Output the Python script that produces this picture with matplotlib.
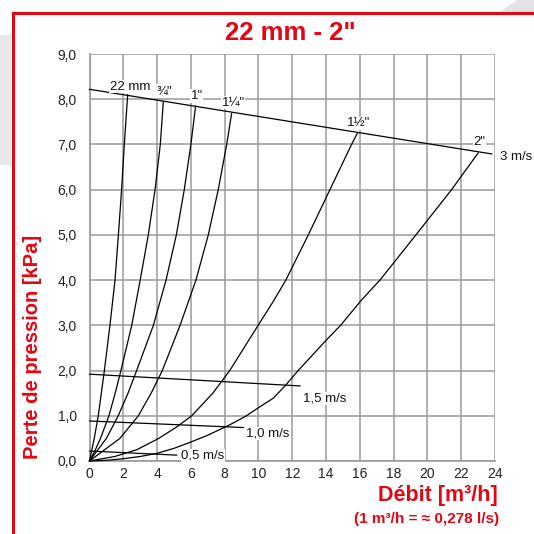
import matplotlib
matplotlib.use("Agg")
import matplotlib.pyplot as plt
from matplotlib.patches import Polygon, Rectangle
from matplotlib.lines import Line2D

plt.rcParams['font.family'] = ['Liberation Sans', 'DejaVu Sans']

RED = '#e30613'
GRID = '#9a9a9a'

# ---- data ----
pipe_names = ['22 mm', '¾"', '1"', '1¼"', '1½"', '2"']
pipe_x = [
    [0, 0.14, 0.28, 0.52, 0.88, 1.21, 1.51, 1.71, 1.90, 2.06, 2.26],
    [0, 0.35, 0.65, 1.15, 1.52, 1.86, 2.50, 3.00, 3.48, 3.88, 4.19, 4.37],
    [0, 0.50, 1.00, 1.70, 2.28, 2.79, 3.78, 4.53, 5.14, 5.61, 6.00, 6.28],
    [0, 0.90, 1.80, 2.89, 3.65, 4.31, 5.36, 6.30, 7.03, 7.62, 8.12, 8.41],
    [0, 1.50, 2.80, 4.10, 5.15, 6.05, 7.30, 8.30, 9.98, 10.88, 11.62, 12.95, 14.23, 15.51, 15.87],
    [0, 1.00, 2.00, 3.00, 4.00, 5.00, 6.00, 7.00, 8.30, 9.20, 10.09, 10.88, 11.57, 12.35,
     14.03, 14.86, 16.10, 17.19, 19.32, 21.43, 23.00],
]
pipe_y = [
    [0, 0.25, 0.50, 1.00, 2.00, 3.00, 4.00, 5.00, 6.00, 7.00, 8.10],
    [0, 0.25, 0.50, 1.00, 1.50, 2.00, 3.00, 4.00, 5.00, 6.00, 7.00, 7.95],
    [0, 0.25, 0.50, 1.00, 1.50, 2.00, 3.00, 4.00, 5.00, 6.00, 7.00, 7.85],
    [0, 0.25, 0.50, 1.00, 1.50, 2.00, 3.00, 4.00, 5.00, 6.00, 7.00, 7.68],
    [0, 0.10, 0.25, 0.50, 0.75, 1.00, 1.50, 2.00, 3.00, 3.53, 4.00, 5.00, 6.00, 7.00, 7.26],
    [0, 0.015, 0.05, 0.10, 0.17, 0.28, 0.42, 0.57, 0.80, 0.98, 1.20, 1.39, 1.66, 2.00,
     2.68, 3.00, 3.56, 4.00, 5.00, 6.00, 6.81],
]
pipe_label_x = [2.40, 4.41, 6.34, 8.50, 15.93, 23.10]
pipe_label_y = [8.28, 8.18, 8.07, 7.92, 7.47, 7.05]

vel_names = ['3 m/s', '1,5 m/s', '1,0 m/s', '0,5 m/s']
vel_x = [[0, 23.8], [0, 12.46], [0, 9.10], [0, 5.16]]
vel_y = [[8.22, 6.79], [1.92, 1.66], [0.885, 0.74], [0.22, 0.13]]
vel_label_x = [24.3, 12.63, 9.26, 5.41]
vel_label_y = [6.73, 1.39, 0.60, 0.13]

x_ticks = list(range(0, 25, 2))
y_ticks = list(range(0, 10))
y_ticklabels = ['0,0', '1,0', '2,0', '3,0', '4,0', '5,0', '6,0', '7,0', '8,0', '9,0']

title = '22 mm - 2"'
ylabel = 'Perte de pression [kPa]'
xlabel = 'Débit [m³/h]'
xnote = '(1 m³/h = ≈ 0,278 l/s)'

# ---- figure ----
W = H = 534
fig = plt.figure(figsize=(W / 100, H / 100), dpi=100)
fig.patch.set_facecolor('white')

def fx(px):
    return px / W

def fy(py):
    return 1 - py / H

# background decorations
fig.add_artist(Rectangle((fx(0), fy(165)), fx(11), fy(35) - fy(165),
                         transform=fig.transFigure, facecolor='#e8e8e8',
                         edgecolor='none', zorder=0))
fig.add_artist(Polygon([(fx(500), fy(12)), (fx(517), fy(0)), (fx(534), fy(0)), (fx(534), fy(12))],
                       closed=True, transform=fig.transFigure, facecolor='#e4e4e4',
                       edgecolor='none', zorder=0))
# red frame
fig.add_artist(Line2D([fx(12.5), fx(12.5)], [fy(13), fy(534)], transform=fig.transFigure,
                      color=RED, lw=2.2, zorder=1))
fig.add_artist(Line2D([fx(12.5), fx(534)], [fy(13), fy(13)], transform=fig.transFigure,
                      color=RED, lw=2.2, zorder=1))

ax = fig.add_axes([fx(89.5), fy(461), fx(495) - fx(89.5), fy(54) - fy(461)])
ax.set_facecolor('none')
ax.set_xlim(0, 24)
ax.set_ylim(0, 9)
ax.set_xticks(x_ticks)
ax.set_yticks(y_ticks)
ax.set_yticklabels(y_ticklabels)
ax.grid(True, color=GRID, lw=1.1, zorder=0)
for s in ['top', 'right']:
    ax.spines[s].set_visible(False)
for s in ['left', 'bottom']:
    ax.spines[s].set_color(GRID)
    ax.spines[s].set_linewidth(1.2)
ax.tick_params(axis='both', length=0, labelsize=10, colors='#222222')
ax.tick_params(axis='y', pad=9)
ax.tick_params(axis='x', pad=4)

for xs, ys in zip(pipe_x, pipe_y):
    ax.plot(xs, ys, color='black', lw=0.9, zorder=3, clip_on=False)
for xs, ys in zip(vel_x, vel_y):
    ax.plot(xs, ys, color='black', lw=0.9, zorder=3, clip_on=False)

for name, lx, ly in zip(pipe_names, pipe_label_x, pipe_label_y):
    ax.text(lx, ly, name, ha='center', va='center', fontsize=9.5, color='#111111', zorder=4,
            bbox=dict(facecolor='white', edgecolor='none', pad=0.5))
for name, lx, ly in zip(vel_names, vel_label_x, vel_label_y):
    ax.text(lx, ly, name, ha='left', va='center', fontsize=9.5, color='#111111', zorder=4,
            clip_on=False, bbox=dict(facecolor='white', edgecolor='none', pad=0.3))

fig.text(fx(290), fy(33), title, ha='center', va='center', fontsize=18.5,
         fontweight='bold', color=RED)
fig.text(fx(33), fy(347), ylabel, ha='center', va='center', rotation=90,
         fontsize=14.5, fontweight='bold', color=RED)
fig.text(fx(498), fy(496), xlabel, ha='right', va='center', fontsize=15.5,
         fontweight='bold', color=RED)
fig.text(fx(499), fy(519), xnote, ha='right', va='center', fontsize=11,
         fontweight='bold', color=RED)

fig.savefig('out.png', dpi=100)
